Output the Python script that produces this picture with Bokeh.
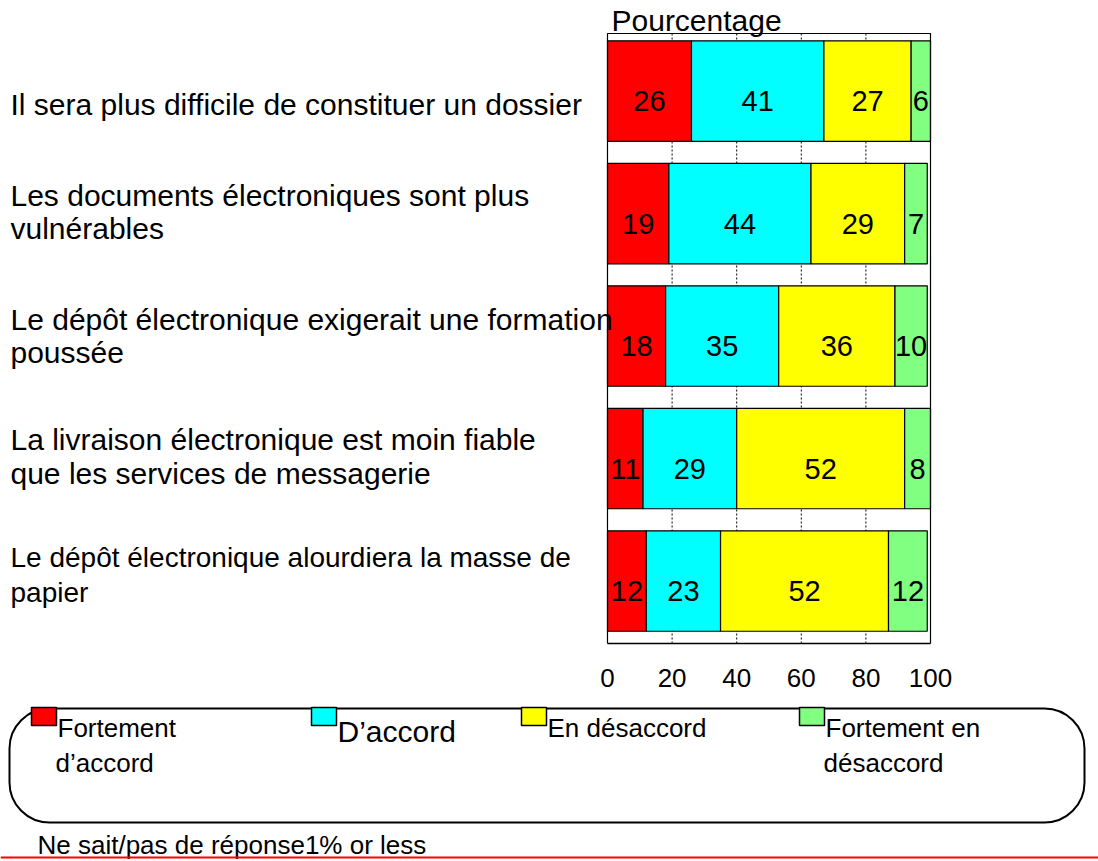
import numpy as np
from bokeh.plotting import figure
from bokeh.layouts import column
from bokeh.models import ColumnDataSource, Range1d, FixedTicker, Label, BoxAnnotation
from bokeh.embed import file_html
from bokeh.resources import INLINE
from bokeh.core.properties import value, field

# ---------------- data ----------------
categories = [
    "Il sera plus difficile de constituer un dossier",
    "Les documents électroniques sont plus\nvulnérables",
    "Le dépôt électronique exigerait une formation\npoussée",
    "La livraison électronique est moin fiable\nque les services de messagerie",
    "Le dépôt électronique alourdiera la masse de\npapier",
]
fortement_accord = [26, 19, 18, 11, 12]
accord = [41, 44, 35, 29, 23]
desaccord = [27, 29, 36, 52, 52]
fortement_desaccord = [6, 7, 10, 8, 12]
series_names = ["Fortement\nd’accord", "D’accord", "En désaccord", "Fortement en\ndésaccord"]
x_ticks = [0, 20, 40, 60, 80, 100]
grid_ticks = [20, 40, 60, 80]
axis_title = "Pourcentage"
note = "Ne sait/pas de réponse1% or less"
colors = ["#FF0000", "#00FFFF", "#FFFF00", "#80FF80"]

# ---------------- layout ----------------
FONT = "Liberation Sans"
W, H = 1098, 861
HA = 705                                   # height of the chart part
FX0, FX1, FY0, FY1 = 607, 930, 33, 643     # bar area in page pixels
YMIN, YMAX = -0.51, 4.47                   # data y at FY1 and FY0
PX_PER_X = (FX1 - FX0) / 100.0
PX_PER_Y = (FY1 - FY0) / (YMAX - YMIN)
CAP = 0.36                                 # half cap height (em) for centring text on its baseline


def px2x(px):
    return (px - FX0) / PX_PER_X


def px2y(py):
    return YMAX - (py - FY0) / PX_PER_Y


pA = figure(width=W, height=HA, x_range=Range1d(px2x(0), px2x(W)),
            y_range=Range1d(YMIN, px2y(0)), title=None,
            output_backend="svg", toolbar_location=None, y_axis_location=None,
            min_border_left=0, min_border_right=0, min_border_top=0,
            min_border_bottom=HA - FY1)
pA.background_fill_color = "white"
pA.border_fill_color = "white"
pA.outline_line_color = None
pA.xgrid.visible = False
pA.ygrid.visible = False

ax = pA.xaxis[0]
ax.bounds = (0, 100)
ax.ticker = FixedTicker(ticks=x_ticks)
ax.major_label_text_font = FONT
ax.major_label_text_font_size = "26px"
ax.major_label_text_color = "black"
ax.major_tick_in = 0
ax.major_tick_out = 0
ax.minor_tick_in = 0
ax.minor_tick_out = 0
ax.axis_line_color = "black"
ax.axis_line_width = 1.5
ax.major_label_standoff = 25

# dotted vertical grid lines across the bar area
pA.segment(x0=grid_ticks, x1=grid_ticks, y0=[YMIN] * len(grid_ticks), y1=[YMAX] * len(grid_ticks),
           line_color="black", line_dash="2 2", line_width=1)

n = len(categories)
ypos = [n - 1 - i for i in range(n)]
keys = ["fa", "a", "d", "fd"]
source = ColumnDataSource(dict(y=ypos, fa=fortement_accord, a=accord, d=desaccord, fd=fortement_desaccord))
pA.hbar_stack(keys, y="y", height=0.82, color=colors, source=source,
              line_color="black", line_width=1.2)

# frame around the bar area
pA.add_layout(BoxAnnotation(left=0, right=100, bottom=YMIN, top=YMAX, fill_alpha=0,
                            line_color="black", line_alpha=1, line_width=1.2))

# value labels
vals = np.array([fortement_accord, accord, desaccord, fortement_desaccord], dtype=float)
starts = np.vstack([np.zeros(n), np.cumsum(vals, axis=0)[:-1]])
centers = starts + vals / 2
lx, ly, lt = [], [], []
for s in range(vals.shape[0]):
    for i in range(n):
        lx.append(centers[s, i])
        ly.append(ypos[i] - 10 / PX_PER_Y)
        lt.append(str(int(vals[s, i])))
pA.text(x="x", y="y", text="t", source=ColumnDataSource(dict(x=lx, y=ly, t=lt)),
        text_align="center", text_baseline="middle", text_font=value(FONT),
        text_font_size="29px", text_color="black")

# category labels (left); offsets are baseline positions relative to the bar centre
label_layout = [(30, [24]), (30, [-7, 26]), (30, [-6, 27]), (30, [-8, 26]), (28, [-13, 22])]
cx, cy_, ct, cfs = [], [], [], []
for i, cat in enumerate(categories):
    size, offs = label_layout[i]
    cy = FY0 + (YMAX - ypos[i]) * PX_PER_Y
    for line, off in zip(cat.split("\n"), offs):
        cx.append(px2x(10))
        cy_.append(px2y(cy + off - CAP * size))
        ct.append(line)
        cfs.append(f"{size}px")
pA.text(x="x", y="y", text="t", source=ColumnDataSource(dict(x=cx, y=cy_, t=ct, fs=cfs)),
        text_align="left", text_baseline="middle", text_font=value(FONT),
        text_font_size=field("fs"), text_color="black")

# axis title on top
pA.text(x=[px2x(611)], y=[px2y(31 - CAP * 30)], text=[axis_title], text_align="left",
        text_baseline="middle", text_font=value(FONT), text_font_size="30px",
        text_color="black")

# ---------------- legend + note ----------------
HC = H - HA
pC = figure(width=W, height=HC, x_range=Range1d(0, W), y_range=Range1d(H, HA), title=None,
            output_backend="svg", toolbar_location=None, x_axis_location=None,
            y_axis_location=None, min_border_left=0, min_border_right=0,
            min_border_top=0, min_border_bottom=0)
pC.outline_line_color = None
pC.xgrid.visible = False
pC.ygrid.visible = False
pC.background_fill_color = "white"
pC.border_fill_color = "white"

pC.add_layout(BoxAnnotation(left=9, right=1084, top=708, bottom=822, fill_alpha=0,
                            line_color="black", line_alpha=1, line_width=2, border_radius=40))
sq_left = [31, 311, 521, 799]
txt_sizes = [26, 30, 26, 26]
first_base = [737, 742, 737, 737]
for k, name in enumerate(series_names):
    pC.add_layout(BoxAnnotation(left=sq_left[k], right=sq_left[k] + 25, top=707, bottom=725,
                                fill_color=colors[k], fill_alpha=1, line_color="black",
                                line_alpha=1, line_width=1.5))
    for j, line in enumerate(name.split("\n")):
        sz = txt_sizes[k]
        pC.add_layout(Label(x=sq_left[k] + 26 - 2 * j, y=first_base[k] + 35 * j - CAP * sz,
                            text=line, text_font=FONT, text_font_size=f"{sz}px",
                            text_align="left", text_baseline="middle", text_color="black"))

pC.add_layout(Label(x=37, y=854 - CAP * 26, text=note, text_font=FONT, text_font_size="26px",
                    text_align="left", text_baseline="middle", text_color="black"))
pC.add_layout(BoxAnnotation(left=0, right=W, top=856, bottom=858,
                            fill_color="#FF0000", fill_alpha=1, line_alpha=0))

layout = column(pA, pC, spacing=0)
open("out.html", "w").write(file_html(layout, INLINE))
